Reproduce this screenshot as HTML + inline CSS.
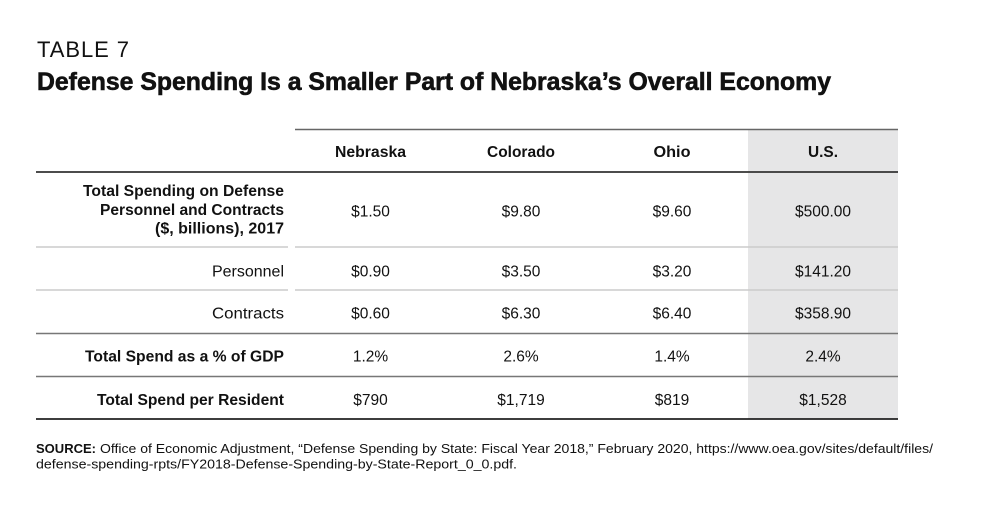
<!DOCTYPE html>
<html><head><meta charset="utf-8"><style>
html,body{margin:0;padding:0;background:#fff;}
svg{display:block;}
text{font-family:"Liberation Sans",sans-serif;fill:#111;}
.b{font-weight:bold;}
.v{font-size:15.5px;text-anchor:middle;}
.l{font-size:15.5px;text-anchor:end;}
</style></head><body>
<svg width="1000" height="511" viewBox="0 0 1000 511" xmlns="http://www.w3.org/2000/svg">
<rect x="0" y="0" width="1000" height="511" fill="#fff"/>
<text x="37" y="57" font-size="22" textLength="94" lengthAdjust="spacing" style="letter-spacing:2px">TABLE 7</text>
<text x="37" y="90" font-size="25" class="b" textLength="794" lengthAdjust="spacingAndGlyphs" stroke="#111" stroke-width="0.6">Defense Spending Is a Smaller Part of Nebraska’s Overall Economy</text>

<rect x="748" y="129" width="150" height="290" fill="#e6e6e7"/>
<line x1="295" y1="129.5" x2="898" y2="129.5" stroke="#666" stroke-width="1.6"/>
<line x1="36" y1="172" x2="898" y2="172" stroke="#333" stroke-width="1.8"/>
<line x1="36" y1="247" x2="288" y2="247" stroke="#ccc" stroke-width="1.5"/>
<line x1="295" y1="247" x2="898" y2="247" stroke="#ccc" stroke-width="1.5"/>
<line x1="36" y1="290" x2="288" y2="290" stroke="#ccc" stroke-width="1.5"/>
<line x1="295" y1="290" x2="898" y2="290" stroke="#ccc" stroke-width="1.5"/>
<line x1="36" y1="333.5" x2="898" y2="333.5" stroke="#777" stroke-width="1.6"/>
<line x1="36" y1="376.5" x2="898" y2="376.5" stroke="#777" stroke-width="1.6"/>
<line x1="36" y1="419" x2="898" y2="419" stroke="#222" stroke-width="1.8"/>

<text class="v b" x="370.5" y="157" textLength="71" lengthAdjust="spacingAndGlyphs">Nebraska</text>
<text class="v b" x="521" y="157" textLength="68" lengthAdjust="spacingAndGlyphs">Colorado</text>
<text class="v b" x="672" y="157" textLength="37" lengthAdjust="spacingAndGlyphs">Ohio</text>
<text class="v b" x="823" y="157" textLength="30" lengthAdjust="spacingAndGlyphs">U.S.</text>

<text class="l b" x="284" y="196" textLength="201" lengthAdjust="spacingAndGlyphs">Total Spending on Defense</text>
<text class="l b" x="284" y="215" textLength="184" lengthAdjust="spacingAndGlyphs">Personnel and Contracts</text>
<text class="l b" x="284" y="233.5" textLength="129" lengthAdjust="spacingAndGlyphs">($, billions), 2017</text>
<text class="v" x="370.5" y="216.5">$1.50</text>
<text class="v" x="521" y="216.5">$9.80</text>
<text class="v" x="672" y="216.5">$9.60</text>
<text class="v" x="823" y="216.5">$500.00</text>

<text class="l" x="284" y="276.5" textLength="72" lengthAdjust="spacingAndGlyphs">Personnel</text>
<text class="v" x="370.5" y="276.5">$0.90</text>
<text class="v" x="521" y="276.5">$3.50</text>
<text class="v" x="672" y="276.5">$3.20</text>
<text class="v" x="823" y="276.5">$141.20</text>

<text class="l" x="284" y="318.5" textLength="72" lengthAdjust="spacingAndGlyphs">Contracts</text>
<text class="v" x="370.5" y="318.5">$0.60</text>
<text class="v" x="521" y="318.5">$6.30</text>
<text class="v" x="672" y="318.5">$6.40</text>
<text class="v" x="823" y="318.5">$358.90</text>

<text class="l b" x="284" y="361.5" textLength="199" lengthAdjust="spacingAndGlyphs">Total Spend as a % of GDP</text>
<text class="v" x="370.5" y="361.5">1.2%</text>
<text class="v" x="521" y="361.5">2.6%</text>
<text class="v" x="672" y="361.5">1.4%</text>
<text class="v" x="823" y="361.5">2.4%</text>

<text class="l b" x="284" y="405" textLength="187" lengthAdjust="spacingAndGlyphs">Total Spend per Resident</text>
<text class="v" x="370.5" y="405">$790</text>
<text class="v" x="521" y="405">$1,719</text>
<text class="v" x="672" y="405">$819</text>
<text class="v" x="823" y="405">$1,528</text>

<text x="36" y="453" font-size="13" class="b" textLength="60" lengthAdjust="spacingAndGlyphs">SOURCE:</text>
<text x="100" y="453" font-size="13" textLength="833" lengthAdjust="spacingAndGlyphs">Office of Economic Adjustment, “Defense Spending by State: Fiscal Year 2018,” February 2020, https://www.oea.gov/sites/default/files/</text>
<text x="36" y="468.5" font-size="13" textLength="481" lengthAdjust="spacingAndGlyphs">defense-spending-rpts/FY2018-Defense-Spending-by-State-Report_0_0.pdf.</text>
</svg>
</body></html>
